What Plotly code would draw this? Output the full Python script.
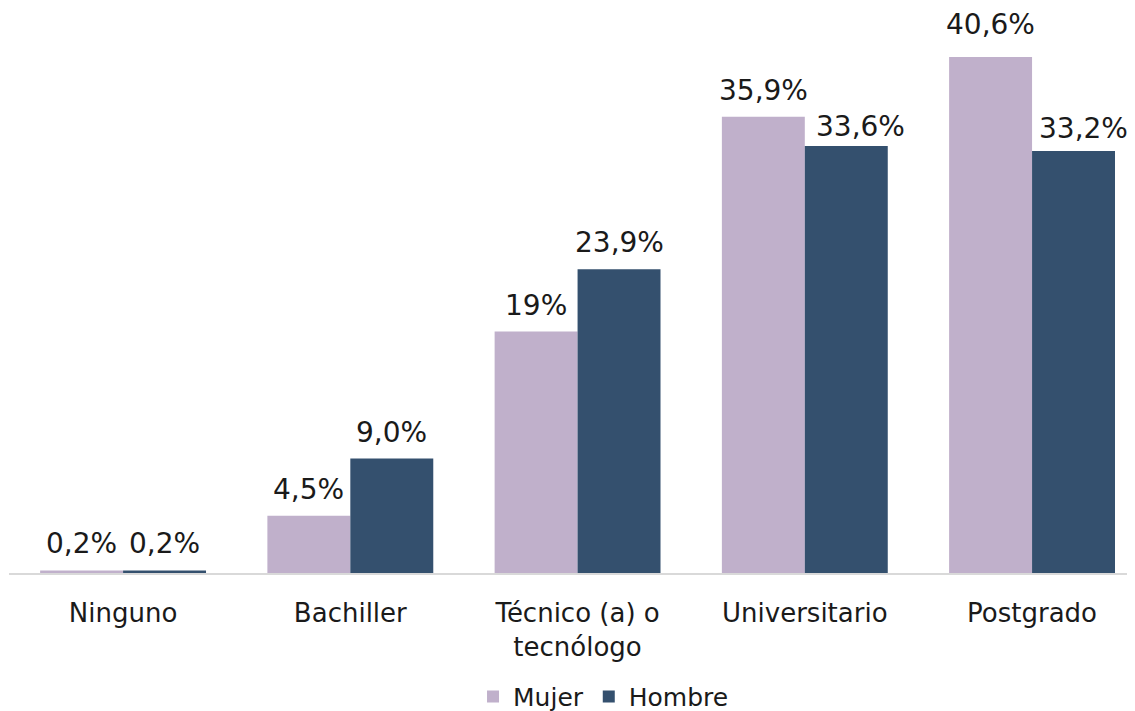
import plotly.graph_objects as go

categories = ["Ninguno", "Bachiller", "Técnico (a) o<br>tecnólogo", "Universitario", "Postgrado"]
mujer = [0.2, 4.5, 19.0, 35.9, 40.6]
hombre = [0.2, 9.0, 23.9, 33.6, 33.2]
mujer_labels = ["0,2%", "4,5%", "19%", "35,9%", "40,6%"]
hombre_labels = ["0,2%", "9,0%", "23,9%", "33,6%", "33,2%"]

# small label nudges (pixels) the source applied to avoid overlaps
mujer_label_dx = [0, 0, 0, 0, 0]
mujer_label_dy = [0, 0, 0, 0, 6]
hombre_label_dx = [0, 0, 0, 14, 10]
hombre_label_dy = [0, 0, 0, -7, -4]

FONT = "DejaVu Sans"
TXT = "#1a1a1a"
# page body has an 8px margin, so the figure is sized to fit the window
W, H = 1127, 703
ML, MR, MT, MB = 1, 0, 2, 138
XR = [-0.502, 4.453]
BARGAP = 0.27

fig = go.Figure()
fig.add_trace(go.Bar(
    name="Mujer", x=categories, y=mujer,
    marker=dict(color="#C0B0CB", line=dict(width=0)),
))
fig.add_trace(go.Bar(
    name="Hombre", x=categories, y=hombre,
    marker=dict(color="#34506E", line=dict(width=0)),
))

# bar-value labels placed above each bar in its group slot
cat_px = (W - ML - MR) / (XR[1] - XR[0])
half_bar = cat_px * (1 - BARGAP) / 4
series = (
    (mujer, mujer_labels, mujer_label_dx, mujer_label_dy, -1),
    (hombre, hombre_labels, hombre_label_dx, hombre_label_dy, 1),
)
for vals, labels, dxs, dys, sgn in series:
    for c, v, t, dx, dy in zip(categories, vals, labels, dxs, dys):
        fig.add_annotation(
            x=c, y=v, text=t, showarrow=False,
            xanchor="center", yanchor="bottom",
            xshift=sgn * half_bar + dx, yshift=8 + dy,
            font=dict(family=FONT, size=28, color=TXT),
        )

fig.update_layout(
    width=W, height=H,
    margin=dict(l=ML, r=MR, t=MT, b=MB, autoexpand=False),
    paper_bgcolor="white", plot_bgcolor="white",
    barmode="group", bargap=BARGAP, bargroupgap=0,
    font=dict(family=FONT, size=25, color=TXT),
    showlegend=True,
    legend=dict(orientation="h", x=0.528, xanchor="center", y=-0.220, yanchor="middle",
                font=dict(family=FONT, size=25, color=TXT), itemwidth=30,
                traceorder="normal"),
)
fig.update_xaxes(
    type="category", range=XR,
    showline=True, linecolor="#D9D9D9", linewidth=2,
    ticks="outside", ticklen=16, tickcolor="rgba(0,0,0,0)",
    tickfont=dict(family=FONT, size=26, color=TXT),
    showgrid=False, zeroline=False,
)
fig.update_yaxes(
    range=[0, 44.3], visible=False, showgrid=False, zeroline=False,
)

fig.write_html("out.html")
